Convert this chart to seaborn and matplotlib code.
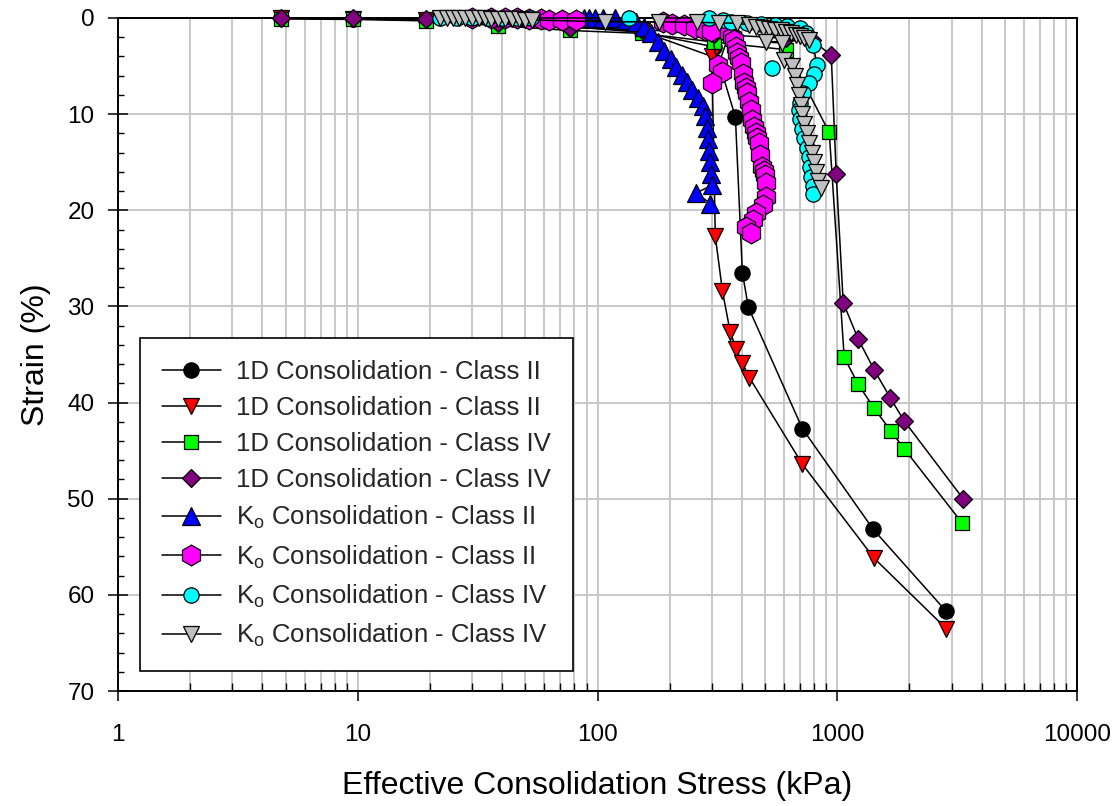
import numpy as np
import pandas as pd
import matplotlib
matplotlib.use("Agg")
import matplotlib.pyplot as plt
import seaborn as sns
from matplotlib.lines import Line2D
from matplotlib.ticker import MultipleLocator, LogLocator, FixedLocator, FixedFormatter, NullFormatter

# ---------------- data ----------------
# 1D Consolidation - Class II (black circles)
c1_x = [4.8, 9.6, 19.2, 38.4, 76.8, 153.6, 307, 376, 402, 426, 715, 1414, 2845]
c1_y = [0.0, 0.1, 0.2, 0.5, 0.9, 1.5, 3.0, 10.3, 26.5, 30.1, 42.7, 53.2, 61.7]

# 1D Consolidation - Class II (red down triangles)
c2_x = [4.8, 9.6, 19.2, 38.4, 76.8, 153.6, 300, 310, 332, 358, 379, 402, 430, 715, 1426, 2845]
c2_y = [0.0, 0.1, 0.2, 0.4, 0.8, 1.4, 4.0, 22.7, 28.4, 32.7, 34.4, 35.9, 37.4, 46.4, 56.2, 63.5]

# 1D Consolidation - Class IV (green squares)
c3_x = [4.8, 9.6, 19.2, 38.4, 76.8, 153.6, 307, 614, 926, 1069, 1223, 1426, 1679, 1901, 3313]
c3_y = [0.1, 0.15, 0.3, 0.8, 1.3, 1.6, 2.5, 3.3, 11.9, 35.3, 38.1, 40.6, 43.0, 44.8, 52.5]

# 1D Consolidation - Class IV (purple diamonds)
c4_x = [4.8, 9.6, 19.2, 38.4, 76.8, 153.6, 307, 614, 787, 944, 990, 1059, 1223, 1426, 1663, 1901, 3350]
c4_y = [0.0, 0.05, 0.1, 0.5, 1.0, 1.2, 1.7, 2.1, 2.3, 3.9, 16.2, 29.6, 33.4, 36.6, 39.5, 41.9, 50.0]

# Ko Consolidation - Class II (blue triangles)
k1_x = [88, 92, 98, 105, 118, 132, 145, 157, 167, 178, 190, 202, 213, 225,
        237, 249, 262, 275, 282, 286, 289, 292, 295, 298, 300, 258, 296]
k1_y = [0.0, 0.0, 0.0, 0.0, 0.05, 0.25, 0.45, 0.9, 1.6, 2.5, 3.4, 4.3, 5.1, 5.9,
        6.7, 7.5, 8.3, 9.2, 10.2, 11.4, 12.6, 13.8, 15.0, 16.2, 17.4, 18.2, 19.3]

# Ko Consolidation - Class II (magenta hexagons)
k2_x = [30, 36, 41, 46, 52, 58, 63, 71, 81, 187, 205, 230, 255,
        280, 298, 318, 331, 300, 355, 365, 372, 378, 383, 390, 398, 404, 410, 416, 422, 430, 438,
        442, 450, 458, 464, 470, 478, 487, 494, 500, 506, 506, 490, 458, 445, 418, 438]
k2_y = [0.0, 0.0, 0.0, 0.05, 0.1, 0.15, 0.2, 0.2, 0.2, 0.45, 0.6, 0.7,
        1.0, 1.2, 1.4, 4.9, 5.6, 6.8, 1.6, 2.0, 2.3, 3.0, 3.6, 4.2, 4.7, 5.8, 6.8, 7.3, 7.8,
        8.7, 9.6, 10.6, 11.3, 12.0, 12.5, 13.0, 14.2, 15.5, 15.9, 16.3, 17.2, 18.6, 19.5, 20.3,
        21.0, 21.7, 22.4]

# Ko Consolidation - Class IV (cyan circles)
k3_x = [22, 26, 30, 35, 40, 46, 53, 135, 292, 333, 362, 420, 480, 550, 620, 700, 740, 790, 826,
        800, 760, 720, 700, 690, 700, 715, 730, 745, 760, 770, 780, 790, 795]
k3_y = [0.0, 0.0, 0.0, 0.0, 0.0, 0.0, 0.0, 0.0, 0.0, 0.2, 0.4, 0.5, 0.6, 0.7, 0.8, 1.0, 1.6, 2.8,
        4.9, 5.8, 6.8, 7.8, 8.8, 9.6, 10.5, 11.5, 12.5, 13.5, 14.5, 15.5, 16.5, 17.5, 18.3]
k3_out_x = [536]
k3_out_y = [5.2]

# Ko Consolidation - Class IV (gray down triangles)
k4_x = [22, 23.5, 25, 26.5, 28, 30, 32, 34, 36, 38.5, 41, 44, 47, 50, 53.5, 107, 181, 260, 321,
        380, 430, 460, 490, 520, 550, 580, 610, 640, 670, 700, 730, 760, 505, 590, 600, 650, 665,
        680, 695, 705, 715, 730, 745, 765, 785, 800, 815, 830, 857]
k4_y = [0.0, 0.0, 0.0, 0.0, 0.0, 0.0, 0.05, 0.05, 0.1, 0.1, 0.1, 0.15, 0.15, 0.2, 0.2, 0.4, 0.4,
        0.45, 0.5, 0.55, 0.7, 0.9, 1.0, 1.1, 1.2, 1.3, 1.45, 1.6, 1.75, 1.9, 2.1, 2.3, 2.5, 2.6,
        4.4, 5.0, 6.0, 7.0, 8.0, 9.0, 10.0, 11.0, 12.0, 13.0, 14.0, 15.0, 16.0, 17.0, 17.7]

labels = ["1D Consolidation - Class II", "1D Consolidation - Class II",
          "1D Consolidation - Class IV", "1D Consolidation - Class IV",
          r"K$_{\mathrm{o}}$ Consolidation - Class II", r"K$_{\mathrm{o}}$ Consolidation - Class II",
          r"K$_{\mathrm{o}}$ Consolidation - Class IV", r"K$_{\mathrm{o}}$ Consolidation - Class IV"]
x_ticks = [1, 10, 100, 1000, 10000]
x_tick_labels = ["1", "10", "100", "1000", "10000"]
y_ticks = [0, 10, 20, 30, 40, 50, 60, 70]

# ---------------- styling ----------------
sns.set_theme(style="white")
plt.rcParams['font.family'] = ['Liberation Sans', 'DejaVu Sans']
plt.rcParams['mathtext.fontset'] = 'custom'
plt.rcParams['mathtext.rm'] = 'Liberation Sans'
plt.rcParams['mathtext.it'] = 'Liberation Sans:italic'

styles = [
    dict(marker='o', ms=11, fc='black'),
    dict(marker='v', ms=12, fc='#ff0000'),
    dict(marker='s', ms=10, fc='#00ff00'),
    dict(marker='D', ms=9.5, fc='#800080'),
    dict(marker='^', ms=13, fc='#0000ff'),
    dict(marker='h', ms=15, fc='#ff00ff'),
    dict(marker='o', ms=11, fc='#00ffff'),
    dict(marker='v', ms=12, fc='#c0c0c0'),
]
series = [(c1_x, c1_y), (c2_x, c2_y), (c3_x, c3_y), (c4_x, c4_y),
          (k1_x, k1_y), (k2_x, k2_y), (k3_x, k3_y), (k4_x, k4_y)]

fig = plt.figure(figsize=(11.17, 8.06), dpi=100)
ax = fig.add_axes([118 / 1117, 1 - 691 / 806, (1077 - 118) / 1117, (691 - 18) / 806])
ax.set_xscale('log')

for i, ((xs, ys), st) in enumerate(zip(series, styles)):
    sns.lineplot(x=xs, y=ys, ax=ax, sort=False, estimator=None, color='black', lw=1.1,
                 marker=st['marker'], markersize=st['ms'], markerfacecolor=st['fc'],
                 markeredgecolor='black', markeredgewidth=0.9, legend=False, zorder=3 + i,
                 clip_on=False)
    if i == 6:
        sns.lineplot(x=k3_out_x, y=k3_out_y, ax=ax, sort=False, estimator=None, color='black',
                     lw=1.1, marker=st['marker'], markersize=st['ms'], markerfacecolor=st['fc'],
                     markeredgecolor='black', markeredgewidth=0.9, legend=False, zorder=3 + i,
                     clip_on=False)

ax.set_xlim(1, 10000)
ax.set_ylim(70, 0)
ax.xaxis.set_major_locator(FixedLocator(x_ticks))
ax.xaxis.set_major_formatter(FixedFormatter(x_tick_labels))
ax.xaxis.set_minor_locator(LogLocator(base=10, subs=np.arange(2, 10)))
ax.xaxis.set_minor_formatter(NullFormatter())
ax.yaxis.set_major_locator(FixedLocator(y_ticks))
ax.yaxis.set_minor_locator(MultipleLocator(2))

ax.set_axisbelow(True)
ax.grid(which='major', axis='both', color='#c8c8c8', lw=1.4)
ax.grid(which='minor', axis='x', color='#c8c8c8', lw=1.4)

ax.tick_params(bottom=True, left=True, top=False, right=False, which='both')
ax.tick_params(axis='x', which='major', direction='out', length=7, width=1.1, labelsize=17.5,
               pad=17, colors='black')
ax.tick_params(axis='x', which='minor', direction='in', length=5.5, width=1.0, colors='black')
ax.tick_params(axis='y', which='major', direction='inout', length=14, width=1.1, labelsize=17.5,
               pad=10, colors='black')
ax.tick_params(axis='y', which='minor', direction='in', length=4.5, width=1.0, colors='black')
for sp in ax.spines.values():
    sp.set_color('black')
    sp.set_linewidth(1.4)
    sp.set_visible(True)

ax.set_xlabel('Effective Consolidation Stress (kPa)', fontsize=23, labelpad=18, color='black')
ax.set_ylabel('Strain (%)', fontsize=23, labelpad=12, color='black')

handles = [Line2D([0], [0], color='black', lw=1.1, marker=st['marker'], markersize=st['ms'],
                  markerfacecolor=st['fc'], markeredgecolor='black', markeredgewidth=0.9)
           for st in styles]
leg = ax.legend(handles, labels, loc='lower left', bbox_to_anchor=(0.0229, 0.0297),
                borderaxespad=0, fontsize=18.5, frameon=True, fancybox=False, framealpha=1,
                edgecolor='black', handlelength=2.3, handletextpad=0.6, labelspacing=0.47,
                borderpad=0.85)
leg.get_frame().set_linewidth(1.2)
leg.set_zorder(20)

fig.savefig('out.png', dpi=100, facecolor='white')
